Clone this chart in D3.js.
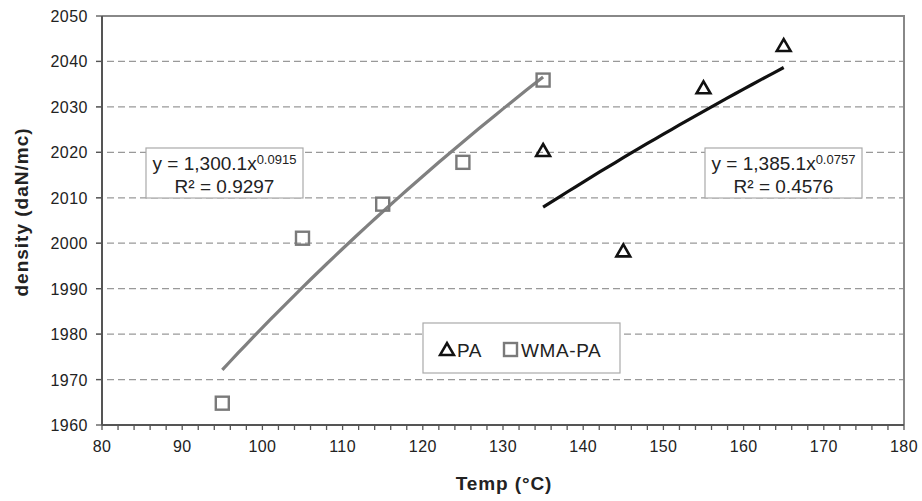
<!DOCTYPE html>
<html>
<head>
<meta charset="utf-8">
<script src="https://cdn.jsdelivr.net/npm/d3@7"></script>
<style>
  body { margin: 0; background: #fff; }
  text { font-family: "Liberation Sans", Arial, sans-serif; }
</style>
</head>
<body>
<svg width="922" height="501"></svg>
<script>
// data
const tempPA = [135, 145, 155, 165];
const densPA = [2020.3, 1998.2, 2034.1, 2043.4];
const tempWMA = [95, 105, 115, 125, 135];
const densWMA = [1964.8, 2001.1, 2008.6, 2017.8, 2035.9];

// power trendlines y = a * x^b, as printed on the chart
const fitWMA = [1300.1, 0.0915];
const fitPA = [1385.1, 0.0757];
const xTicks = [80, 90, 100, 110, 120, 130, 140, 150, 160, 170, 180];
const yTicks = [1960, 1970, 1980, 1990, 2000, 2010, 2020, 2030, 2040, 2050];

const svg = d3.select("svg");
const pL = 102, pR = 904, pT = 16, pB = 425;

const x = d3.scaleLinear().domain([80, 180]).range([pL, pR]);
const y = d3.scaleLinear().domain([1960, 2050]).range([pB, pT]);

// gridlines
svg.append("g").selectAll("line")
  .data(yTicks.filter(d => d > 1960 && d < 2050))
  .join("line")
  .attr("x1", pL - 6).attr("x2", pR)
  .attr("y1", d => y(d)).attr("y2", d => y(d))
  .attr("stroke", "#999").attr("stroke-width", 1.2)
  .attr("stroke-dasharray", "7,4");

// frame (top & right)
svg.append("path")
  .attr("d", `M${pL},${pT}H${pR}V${pB}`)
  .attr("fill", "none").attr("stroke", "#888").attr("stroke-width", 2);

// x axis
const xAxis = svg.append("g").attr("transform", `translate(0,${pB})`);
xAxis.append("line").attr("x1", pL).attr("x2", pR)
  .attr("stroke", "#555").attr("stroke-width", 2);
xAxis.selectAll(".minor")
  .data(d3.range(80, 181, 2))
  .join("line")
  .attr("x1", d => x(d)).attr("x2", d => x(d))
  .attr("y1", 0).attr("y2", 5)
  .attr("stroke", "#555").attr("stroke-width", 1.3);
xAxis.selectAll("text")
  .data(xTicks)
  .join("text")
  .attr("x", d => x(d)).attr("y", 27)
  .attr("text-anchor", "middle")
  .attr("font-size", 16).attr("letter-spacing", 0.4).attr("fill", "#222")
  .text(d => d);

// y axis
const yAxis = svg.append("g").attr("transform", `translate(${pL},0)`);
yAxis.append("line").attr("y1", pT).attr("y2", pB)
  .attr("stroke", "#555").attr("stroke-width", 2);
yAxis.selectAll(".tick")
  .data(yTicks)
  .join("line")
  .attr("x1", -6).attr("x2", 0)
  .attr("y1", d => y(d)).attr("y2", d => y(d))
  .attr("stroke", "#555").attr("stroke-width", 1.3);
yAxis.selectAll("text")
  .data(yTicks)
  .join("text")
  .attr("x", -14).attr("y", d => y(d) + 6)
  .attr("text-anchor", "end")
  .attr("font-size", 16).attr("letter-spacing", 0.5).attr("fill", "#222")
  .text(d => d);

// axis titles
svg.append("text")
  .attr("x", 504).attr("y", 490)
  .attr("text-anchor", "middle")
  .attr("font-size", 19).attr("letter-spacing", 0.9)
  .attr("font-weight", "bold").attr("fill", "#222")
  .text("Temp (°C)");
svg.append("text")
  .attr("transform", "translate(28,212) rotate(-90)")
  .attr("text-anchor", "middle")
  .attr("font-size", 19).attr("letter-spacing", 1)
  .attr("font-weight", "bold").attr("fill", "#222")
  .text("density (daN/mc)");

// trendlines
const line = d3.line().x(d => x(d[0])).y(d => y(d[1]));
function curve(fit, x0, x1) {
  return d3.range(x0, x1 + 0.001, 1).map(t => [t, fit[0] * Math.pow(t, fit[1])]);
}
svg.append("path")
  .attr("d", line(curve(fitWMA, 95, 135)))
  .attr("fill", "none").attr("stroke", "#808080").attr("stroke-width", 3.2);
svg.append("path")
  .attr("d", line(curve(fitPA, 135, 165)))
  .attr("fill", "none").attr("stroke", "#111").attr("stroke-width", 3.2);

// markers
const sq = 13;
svg.append("g").selectAll("rect")
  .data(tempWMA.map((t, i) => [t, densWMA[i]]))
  .join("rect")
  .attr("x", d => x(d[0]) - sq / 2).attr("y", d => y(d[1]) - sq / 2)
  .attr("width", sq).attr("height", sq)
  .attr("fill", "none").attr("stroke", "#7a7a7a").attr("stroke-width", 2.4);

const tri = d3.symbol().type(d3.symbolTriangle).size(82);
svg.append("g").selectAll("path")
  .data(tempPA.map((t, i) => [t, densPA[i]]))
  .join("path")
  .attr("transform", d => `translate(${x(d[0])},${y(d[1]) + 1})`)
  .attr("d", tri)
  .attr("fill", "none").attr("stroke", "#111").attr("stroke-width", 2.6)
  .attr("stroke-linejoin", "miter");

// equation boxes
function eqBox(x0, y0, w, h, a, b, r2) {
  const g = svg.append("g");
  g.append("rect").attr("x", x0).attr("y", y0).attr("width", w).attr("height", h)
    .attr("fill", "#fff").attr("stroke", "#aaa").attr("stroke-width", 1.2);
  const t = g.append("text").attr("x", x0 + w / 2).attr("y", y0 + 22)
    .attr("text-anchor", "middle").attr("font-size", 19).attr("fill", "#222");
  t.append("tspan").text(`y = ${a}x`);
  t.append("tspan").attr("dy", -6).attr("font-size", 13).text(b);
  g.append("text").attr("x", x0 + w / 2).attr("y", y0 + 45)
    .attr("text-anchor", "middle").attr("font-size", 19).attr("fill", "#222")
    .text(`R² = ${r2}`);
}
eqBox(146, 148, 157, 50, "1,300.1", "0.0915", "0.9297");
eqBox(705, 148, 157, 50, "1,385.1", "0.0757", "0.4576");

// legend
const lg = svg.append("g");
lg.append("rect").attr("x", 423).attr("y", 323).attr("width", 197).attr("height", 50)
  .attr("fill", "#fff").attr("stroke", "#aaa").attr("stroke-width", 1.2);
lg.append("path").attr("transform", "translate(447,351)").attr("d", tri)
  .attr("fill", "none").attr("stroke", "#111").attr("stroke-width", 2.6);
lg.append("text").attr("x", 457).attr("y", 357).attr("font-size", 19)
  .attr("letter-spacing", 0.6).attr("fill", "#222").text("PA");
lg.append("rect").attr("x", 504).attr("y", 343).attr("width", 13).attr("height", 13)
  .attr("fill", "none").attr("stroke", "#7a7a7a").attr("stroke-width", 2.4);
lg.append("text").attr("x", 521).attr("y", 357).attr("font-size", 19)
  .attr("letter-spacing", 0.6).attr("fill", "#222").text("WMA-PA");
</script>
</body>
</html>
